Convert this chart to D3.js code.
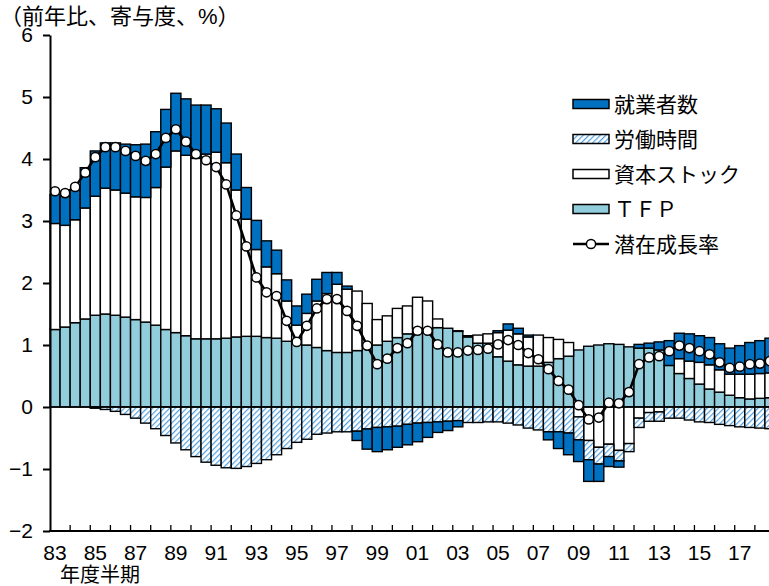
<!DOCTYPE html>
<html>
<head>
<meta charset="utf-8">
<script src="https://cdn.jsdelivr.net/npm/d3@7"></script>
<style>
  body { margin: 0; background: #fff; }
  svg text { font-family: "Liberation Sans", "Noto Sans CJK JP", sans-serif; fill: #000; }
</style>
</head>
<body>
<div id="chart"></div>
<script>
// fiscal years (two half-year bars per year)
const years = ["83","84","85","86","87","88","89","90","91","92","93","94",
  "95","96","97","98","99","00","01","02","03","04","05","06",
  "07","08","09","10","11","12","13","14","15","16","17","18"];
const yearLabels = ["83","85","87","89","91","93","95","97","99","01","03","05","07","09","11","13","15","17"];
const yTicks = [-2, -1, 0, 1, 2, 3, 4, 5, 6];

// contributions, % (half-year, 83H1 .. 18H2)
const tfp = [1.25,1.29,1.36,1.42,1.48,1.50,1.48,1.45,1.41,1.37,1.32,1.25,
  1.20,1.15,1.10,1.10,1.10,1.11,1.13,1.14,1.14,1.12,1.11,1.06,
  1.03,1.00,0.96,0.91,0.88,0.88,0.91,0.98,1.00,1.06,1.12,1.18,
  1.27,1.25,1.28,1.27,1.22,1.13,1.03,1.03,0.81,0.74,0.68,0.66,
  0.66,0.72,0.78,0.82,0.92,0.98,1.00,1.02,1.01,0.97,0.95,0.95,
  0.92,0.67,0.54,0.46,0.37,0.29,0.24,0.19,0.15,0.13,0.14,0.15];
const capital = [1.71,1.64,1.66,1.79,1.92,2.03,2.02,2.00,1.98,2.01,2.22,2.62,
  2.93,2.91,2.91,2.98,3.01,2.83,2.37,1.89,1.40,1.14,1.04,0.65,
  0.29,0.51,0.75,0.92,1.10,1.02,0.96,0.69,0.41,0.41,0.47,0.45,
  0.50,0.46,0.14,0.00,0.01,0.02,0.13,0.15,0.39,0.50,0.50,0.47,
  0.50,0.40,0.31,0.22,-0.16,-0.54,-0.65,-0.60,-0.70,-0.59,-0.18,-0.09,
  -0.08,0.00,0.24,0.28,0.35,0.39,0.36,0.34,0.38,0.40,0.40,0.40];
const hours = [0,0,0,0,-0.02,-0.04,-0.07,-0.12,-0.18,-0.26,-0.35,-0.46,
  -0.58,-0.69,-0.80,-0.89,-0.94,-0.98,-0.99,-0.96,-0.91,-0.85,-0.77,-0.67,
  -0.57,-0.52,-0.44,-0.42,-0.40,-0.40,-0.39,-0.355,-0.33,-0.32,-0.31,-0.28,
  -0.26,-0.25,-0.24,-0.23,-0.22,-0.25,-0.25,-0.24,-0.24,-0.26,-0.29,-0.34,
  -0.37,-0.40,-0.40,-0.42,-0.37,-0.31,-0.27,-0.20,-0.17,-0.13,-0.15,-0.14,
  -0.15,-0.18,-0.18,-0.21,-0.24,-0.25,-0.28,-0.30,-0.32,-0.33,-0.34,-0.35];
const employment = [0.47,0.47,0.48,0.65,0.73,0.73,0.76,0.79,0.84,0.86,0.90,0.93,
  0.93,0.91,0.86,0.79,0.70,0.64,0.58,0.51,0.47,0.42,0.38,0.34,
  0.31,0.31,0.35,0.34,0.19,0.05,-0.15,-0.325,-0.39,-0.37,-0.34,-0.33,
  -0.30,-0.24,-0.17,-0.15,-0.10,0,0,0,0.03,0.10,0.09,0.03,
  0,-0.13,-0.27,-0.35,-0.35,-0.35,-0.28,-0.16,-0.10,0,0.06,0.08,
  0.13,0.40,0.41,0.44,0.43,0.44,0.42,0.42,0.46,0.51,0.53,0.56];
const potential = [3.48,3.45,3.55,3.78,4.03,4.19,4.19,4.13,4.05,3.97,4.08,4.34,
  4.48,4.28,4.08,3.98,3.87,3.59,3.09,2.59,2.09,1.85,1.79,1.39,
  1.05,1.31,1.59,1.74,1.74,1.55,1.31,0.99,0.69,0.78,0.95,1.03,
  1.23,1.23,1.01,0.88,0.88,0.91,0.92,0.94,1.01,1.08,1.00,0.87,
  0.77,0.61,0.42,0.28,0.03,-0.20,-0.17,0.07,0.06,0.24,0.69,0.80,
  0.82,0.90,0.99,0.95,0.90,0.85,0.72,0.63,0.65,0.69,0.70,0.74];

const periods = years.flatMap(y => [y + "H1", y + "H2"]);
const rows = periods.map((p, i) => ({
  period: p, tfp: tfp[i], cap: capital[i], hrs: hours[i], emp: employment[i], pot: potential[i]
}));

const series = [
  {key: "emp", name: "就業者数", fill: "#0070C0"},
  {key: "hrs", name: "労働時間", fill: "url(#hatch)"},
  {key: "cap", name: "資本ストック", fill: "#ffffff"},
  {key: "tfp", name: "ＴＦＰ", fill: "#92CDDC"}
];
const fillOf = Object.fromEntries(series.map(s => [s.key, s.fill]));

const width = 769, height = 586;
const plot = {left: 50, right: 775, top: 35, bottom: 531};

const svg = d3.select("#chart").append("svg")
  .attr("width", width)
  .attr("height", height);

const defs = svg.append("defs");
const hatch = defs.append("pattern")
  .attr("id", "hatch")
  .attr("patternUnits", "userSpaceOnUse")
  .attr("width", 4)
  .attr("height", 4)
  .attr("patternTransform", "rotate(45)");
hatch.append("rect").attr("width", 4).attr("height", 4).attr("fill", "#fff");
hatch.append("line")
  .attr("x1", 0).attr("y1", 0).attr("x2", 0).attr("y2", 4)
  .attr("stroke", "#4F9FE0").attr("stroke-width", 2.4);

const x = d3.scaleBand()
  .domain(periods)
  .range([plot.left, plot.right])
  .padding(0);

const y = d3.scaleLinear()
  .domain([-2, 6])
  .range([plot.bottom, plot.top]);

const stack = d3.stack()
  .keys(["tfp", "cap", "hrs", "emp"])
  .offset(d3.stackOffsetDiverging);

const layers = svg.append("g").selectAll("g")
  .data(stack(rows))
  .join("g")
  .attr("fill", d => fillOf[d.key]);

layers.selectAll("rect")
  .data(d => d)
  .join("rect")
  .attr("x", d => x(d.data.period))
  .attr("width", x.bandwidth())
  .attr("y", d => y(Math.max(d[0], d[1])))
  .attr("height", d => Math.abs(y(d[0]) - y(d[1])))
  .attr("stroke", "#000")
  .attr("stroke-width", 1.4)
  .filter(d => Math.abs(d[1] - d[0]) < 1e-6)
  .remove();

// zero line
svg.append("line")
  .attr("x1", plot.left).attr("x2", plot.right)
  .attr("y1", y(0)).attr("y2", y(0))
  .attr("stroke", "#000").attr("stroke-width", 1.4);

// potential growth line
const cx = d => x(d.period) + x.bandwidth() / 2;
svg.append("path")
  .datum(rows)
  .attr("fill", "none")
  .attr("stroke", "#000")
  .attr("stroke-width", 2.6)
  .attr("d", d3.line().x(cx).y(d => y(d.pot)));

svg.append("g").selectAll("circle")
  .data(rows)
  .join("circle")
  .attr("cx", cx)
  .attr("cy", d => y(d.pot))
  .attr("r", 4.6)
  .attr("fill", "#fff")
  .attr("stroke", "#000")
  .attr("stroke-width", 1.5);

// y axis
const yAxis = svg.append("g")
  .attr("transform", `translate(${plot.left},0)`)
  .call(d3.axisLeft(y).tickValues(yTicks).tickSize(7).tickSizeOuter(0).tickPadding(10));
yAxis.select(".domain").attr("stroke-width", 2);
yAxis.selectAll(".tick line").attr("stroke-width", 2);
yAxis.selectAll("text")
  .style("font-family", null)
  .style("font-size", "21px");

// x axis
const xAxis = svg.append("g");
xAxis.append("line")
  .attr("x1", plot.left - 1).attr("x2", plot.right)
  .attr("y1", plot.bottom).attr("y2", plot.bottom)
  .attr("stroke", "#000").attr("stroke-width", 2);
xAxis.selectAll(".xtick")
  .data(years.slice(1))
  .join("line")
  .attr("class", "xtick")
  .attr("x1", d => x(d + "H1")).attr("x2", d => x(d + "H1"))
  .attr("y1", plot.bottom).attr("y2", plot.bottom - 6)
  .attr("stroke", "#000").attr("stroke-width", 1.3);
xAxis.selectAll(".xlabel")
  .data(yearLabels)
  .join("text")
  .attr("class", "xlabel")
  .attr("x", d => x(d + "H1") + x.bandwidth() / 2)
  .attr("y", 560)
  .attr("text-anchor", "middle")
  .style("font-size", "21px")
  .text(d => d);

svg.append("text")
  .attr("x", 60)
  .attr("y", 581.5)
  .style("font-size", "20px")
  .text("年度半期");

svg.append("text")
  .attr("x", 0)
  .attr("y", 24)
  .style("font-size", "22px")
  .text("（前年比、寄与度、%）");

// legend
const legend = svg.append("g").attr("transform", "translate(573,104)");
const item = legend.selectAll("g")
  .data(series)
  .join("g")
  .attr("transform", (d, i) => `translate(0,${i * 35})`);
item.append("rect")
  .attr("x", 0).attr("y", -4.5)
  .attr("width", 36).attr("height", 9)
  .attr("fill", d => d.fill)
  .attr("stroke", "#000").attr("stroke-width", 1.5);
item.append("text")
  .attr("x", 41).attr("y", 0)
  .attr("dy", "0.36em")
  .style("font-size", "21px")
  .text(d => d.name);

const lineItem = legend.append("g").attr("transform", `translate(0,${4 * 35})`);
lineItem.append("line")
  .attr("x1", 0).attr("x2", 36)
  .attr("stroke", "#000").attr("stroke-width", 2.6);
lineItem.append("circle")
  .attr("cx", 18).attr("r", 4.6)
  .attr("fill", "#fff").attr("stroke", "#000").attr("stroke-width", 1.5);
lineItem.append("text")
  .attr("x", 41).attr("dy", "0.36em")
  .style("font-size", "21px")
  .text("潜在成長率");
</script>
</body>
</html>
